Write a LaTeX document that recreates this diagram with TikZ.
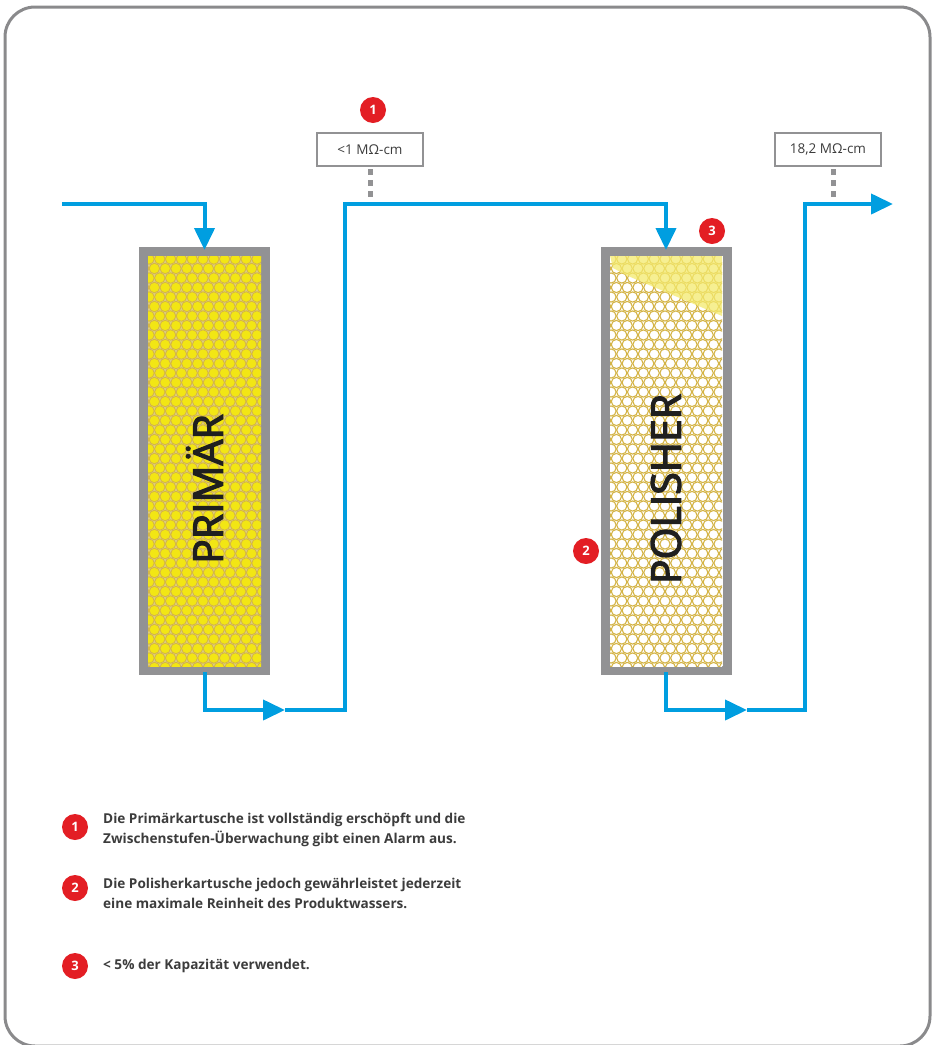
\documentclass[tikz,border=0pt]{standalone}
\usepackage{fontspec}
\setmainfont{Open Sans}
\newfontfamily\heavyfont{Open Sans}[FakeBold=3]
\usetikzlibrary{arrows.meta,positioning}

\definecolor{pipeblue}{RGB}{0,158,224}
\definecolor{casegrey}{RGB}{146,146,148}
\definecolor{framegrey}{RGB}{138,138,140}
\definecolor{resinyellow}{RGB}{242,230,20}
\definecolor{resingold}{RGB}{212,180,70}
\definecolor{resingap}{RGB}{220,206,130}
\definecolor{usedyellow}{RGB}{244,234,110}
\definecolor{badgered}{RGB}{227,30,36}
\definecolor{inkgrey}{RGB}{60,60,60}

\tikzset{
  frame/.style={draw=framegrey,line width=3pt,rounded corners=30pt},
  cartridge/.style={draw=casegrey,line width=6pt,minimum width=119pt,minimum height=416pt,inner sep=0pt},
  pipe/.style={draw=pipeblue,line width=4pt,-{Triangle[length=22pt,width=20pt]}},
  probe/.style={draw=casegrey,line width=5pt,dash pattern=on 6pt off 5pt},
  reading/.style={draw=casegrey,line width=2.5pt,fill=white,minimum width=106pt,minimum height=33pt,
    font=\fontsize{13.5}{15}\selectfont,text=inkgrey},
  badge/.style={circle,fill=badgered,text=white,inner sep=0pt,minimum size=26pt,
    font=\bfseries\fontsize{13}{13}\selectfont},
  bigtext/.style={rotate=90,font=\heavyfont\fontsize{41}{41}\selectfont,text=black!88},
  note/.style={anchor=west,align=left,inner sep=0pt,text=inkgrey,
    font=\bfseries\fontsize{13.6}{20}\selectfont},
  cellfull/.style={fill=resinyellow,draw=resingold,line width=0.8pt},
  cellempty/.style={fill=white,draw=resingold,line width=1.1pt}
}

\begin{document}
\begin{tikzpicture}[x=1pt,y=-1pt]
\useasboundingbox (0,0) rectangle (935,1045);
\draw[frame] (5,7) rectangle (930,1046);

% cartridges
\node[cartridge] (primaer) at (204.5,461) {};
\node[cartridge] (polisher) at (666,461) {};

% resin beds
\begin{scope}
  \clip (148,256) rectangle (261,666);
  \fill[resingap] (148,256) rectangle (261,666);
  \foreach \r in {0,...,43}
    \foreach \c in {0,...,11}
      \filldraw[cellfull] ({149+\c*10.8-mod(\r,2)*5.4},{259+\r*9.5}) circle (5.2);
\end{scope}
\begin{scope}
  \clip (610,256) rectangle (722,666);
  \foreach \r in {0,...,43}
    \foreach \c in {0,...,11}
      \filldraw[cellempty] ({611+\c*10.8-mod(\r,2)*5.4},{259+\r*9.5}) circle (5.1);
  % used part of the polisher
  \fill[usedyellow,opacity=0.75] (610,256) -- (613,268) -- (628,276) -- (722,316) -- (722,256) -- cycle;
\end{scope}
\draw[casegrey,line width=6pt] (primaer.north west) rectangle (primaer.south east);
\draw[casegrey,line width=6pt] (polisher.north west) rectangle (polisher.south east);

\node[bigtext] (primtxt) at ([yshift=-28pt]primaer.center) {PRIMÄR};
\node[bigtext] (poltxt) at ([yshift=-28pt]polisher.center) {POLISHER};

% pipework
\coordinate (in) at (62,204);
\coordinate (a1) at (285,710);
\coordinate (j1) at (345,204);
\coordinate (a2) at (747,710);
\coordinate (j2) at (805,204);
\coordinate (out) at (893,204);

\draw[pipe] (in) -| (primaer.north);
\draw[pipe] (primaer.south) |- (a1);
\draw[pipe] (a1) -| (j1) -| (polisher.north);
\draw[pipe] (polisher.south) |- (a2);
\draw[pipe] (a2) -| (j2) -- (out);

% resistivity readings
\node[reading] (lbl1) at (370,149.5) {<1 MΩ-cm};
\node[reading] (lbl2) at (828,149.5) {18,2 MΩ-cm};
\coordinate (p1) at (370,201);
\coordinate (p2) at (833,201);
\draw[probe] ([yshift=-2pt]lbl1.south) -- (p1);
\draw[probe] ([xshift=5pt,yshift=-2pt]lbl2.south) -- (p2);

\node[badge] (b1) at (373,110) {1};
\node[badge] (b3) at (712,231) {3};
\node[badge] (b2) at (586,551) {2};

% legend
\node[badge] (n1) at (75,827) {1};
\node[badge] (n2) at (75,888) {2};
\node[badge] (n3) at (75,966) {3};
\node[note] (t1) at (103,830) {Die Primärkartusche ist vollständig erschöpft und die\\Zwischenstufen-Überwachung gibt einen Alarm aus.};
\node[note] (t2) at (103,893) {Die Polisherkartusche jedoch gewährleistet jederzeit\\eine maximale Reinheit des Produktwassers.};
\node[note] (t3) at (103,966) {< 5\% der Kapazität verwendet.};
\end{tikzpicture}
\end{document}
